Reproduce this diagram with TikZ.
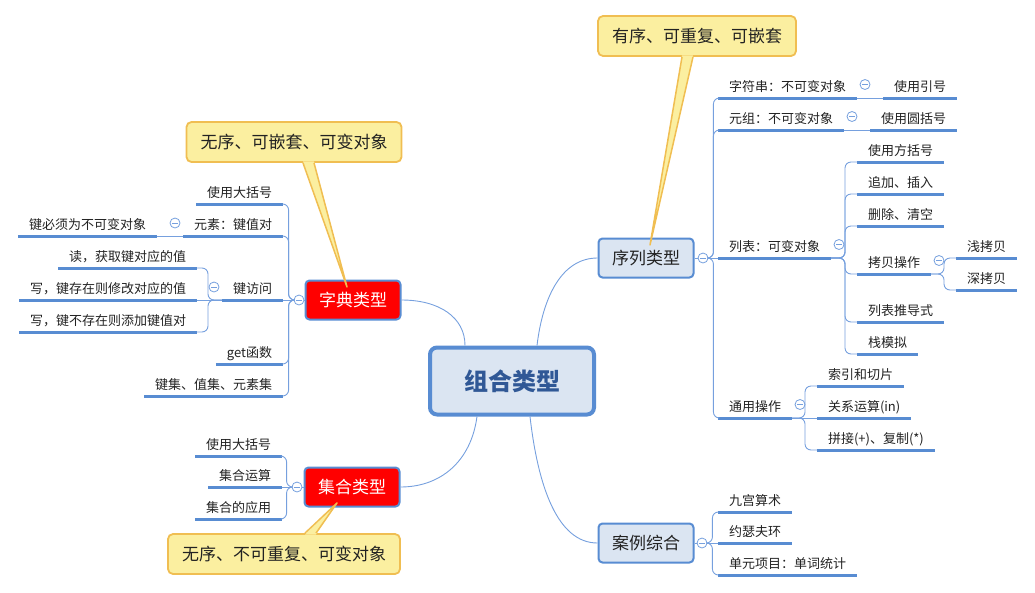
\documentclass[tikz,border=0pt]{standalone}
\usepackage{fontspec}
\setmainfont{Noto Sans CJK SC}
\usepackage{tikz}
\usetikzlibrary{positioning,calc}
\definecolor{lineblue}{RGB}{88,140,210}
\definecolor{spinec}{RGB}{118,160,222}
\definecolor{boxbg}{RGB}{219,229,242}
\definecolor{rootink}{RGB}{48,88,150}
\definecolor{ink}{RGB}{34,34,34}
\definecolor{notebg}{RGB}{251,239,160}
\definecolor{noteln}{RGB}{240,190,82}
\tikzset{
  root/.style={draw=lineblue,line width=4pt,rounded corners=7pt,fill=boxbg,text=rootink,font=\fontsize{24}{28}\selectfont\bfseries,minimum width=164pt,minimum height=67pt},
  cat/.style={draw=lineblue,line width=2pt,rounded corners=4pt,fill=boxbg,text=ink,font=\fontsize{17}{20}\selectfont,minimum width=95pt,minimum height=39pt},
  hot/.style={cat,fill=red,text=white},
  leaf/.style={font=\fontsize{13}{15}\selectfont,text=ink,inner xsep=11pt,inner ysep=5pt,text height=10pt,text depth=2pt,outer sep=0pt,
    append after command={(\tikzlastnode.south west) edge[uline] (\tikzlastnode.south east)}},
  fold/.style={circle,draw=spinec,fill=white,line width=0.8pt,minimum size=10pt,inner sep=0pt,
    path picture={\draw[spinec,line width=0.8pt] ([xshift=-2.8pt]path picture bounding box.center) -- ([xshift=2.8pt]path picture bounding box.center);}},
  note/.style={draw=noteln,line width=1.8pt,fill=notebg,rounded corners=5pt,text=ink,font=\fontsize{17}{20}\selectfont,inner xsep=14pt,minimum height=40pt},
  wedge/.style={noteln,line width=1.5pt,line join=round},
  link/.style={spinec,line width=0.9pt},
  spine/.style={link,rounded corners=6pt},
  uline/.style={draw=lineblue,line width=3pt},
}

\begin{document}
\begin{tikzpicture}[x=1pt,y=-1pt]
  \useasboundingbox (0,0) rectangle (1035,592);
  % main topics
  \node[root] (root) at (512,381) {组合类型};
  \node[hot] (dict) at (353,300) {字典类型};
  \node[hot] (set) at (352,487) {集合类型};
  \node[cat] (seq) at (646,258) {序列类型};
  \node[cat] (case) at (646,543) {案例综合};
  \draw[link] (dict.east) .. controls +(38,0) and +(0,-28) .. ([xshift=-47pt]root.north);
  \draw[link] ([xshift=25pt]root.north) .. controls +(6,-50) and +(-35,0) .. (seq.west);
  \draw[link] ([xshift=-35pt]root.south) .. controls +(-6,45) and +(40,0) .. (set.east);
  \draw[link] ([xshift=18pt]root.south) .. controls +(8,70) and +(-40,0) .. (case.west);

  % dict branch
  \node[fold] (fD) at (299,300) {};
  \node[leaf,anchor=south east] (d1) at (283,204) {使用大括号};
  \node[leaf,anchor=south east] (d2) at (283,236) {元素：键值对};
  \node[leaf,anchor=south east] (d2a) at (157,236) {键必须为不可变对象};
  \node[leaf,anchor=south east] (d3) at (283,300) {键访问};
  \node[leaf,anchor=south east] (d3a) at (197,268) {读，获取键对应的值};
  \node[leaf,anchor=south east] (d3b) at (197,300) {写，键存在则修改对应的值};
  \node[leaf,anchor=south east] (d3c) at (197,332) {写，键不存在则添加键值对};
  \node[leaf,anchor=south east] (d4) at (283,364) {get函数};
  \node[leaf,anchor=south east] (d5) at (283,396) {键集、值集、元素集};
  \node[fold] (fd2) at ($(d2.south west)+(-8,-13)$) {};
  \node[fold] (fd3) at ($(d3.south west)+(-8,-13)$) {};
  \draw[link] (dict.west) -- (fD.east);
  \foreach \c in {d1,d2,d4,d5}
    \draw[spine] (fD.west) -- ++(-5,0) |- (\c.south east);
  \draw[link] (fD.west) -- (d3.south east);
  \draw[link] (d2.south west) -- (d2a.south east);
  \foreach \c in {d3a,d3c}
    \draw[spine] (d3.south west) -- ++(-14,0) |- (\c.south east);
  \draw[link] (d3.south west) -- (d3b.south east);

  % set branch
  \node[fold] (fS) at (297,487) {};
  \node[leaf,anchor=south east] (s1) at (282,456) {使用大括号};
  \node[leaf,anchor=south east] (s2) at (282,487) {集合运算};
  \node[leaf,anchor=south east] (s3) at (282,519) {集合的应用};
  \draw[link] (set.west) -- (fS.east);
  \foreach \c in {s1,s3}
    \draw[spine] (fS.west) -- ++(-5,0) |- (\c.south east);
  \draw[link] (fS.west) -- (s2.south east);

  % sequence branch
  \node[fold] (fQ) at (703,258) {};
  \node[leaf,anchor=south west] (q1) at (718,98) {字符串：不可变对象};
  \node[leaf,anchor=south west] (q1a) at (883,98) {使用引号};
  \node[leaf,anchor=south west] (q2) at (718,130) {元组：不可变对象};
  \node[leaf,anchor=south west] (q2a) at (870,130) {使用圆括号};
  \node[leaf,anchor=south west] (q3) at (718,258) {列表：可变对象};
  \node[leaf,anchor=south west] (q3a) at (857,162) {使用方括号};
  \node[leaf,anchor=south west] (q3b) at (857,194) {追加、插入};
  \node[leaf,anchor=south west] (q3c) at (857,226) {删除、清空};
  \node[leaf,anchor=south west] (q3d) at (857,274) {拷贝操作};
  \node[leaf,anchor=south west] (q3d1) at (956,258) {浅拷贝};
  \node[leaf,anchor=south west] (q3d2) at (956,290) {深拷贝};
  \node[leaf,anchor=south west] (q3e) at (857,322) {列表推导式};
  \node[leaf,anchor=south west] (q3f) at (857,354) {栈模拟};
  \node[leaf,anchor=south west] (q4) at (718,418) {通用操作};
  \node[leaf,anchor=south west] (q4a) at (817,386) {索引和切片};
  \node[leaf,anchor=south west] (q4b) at (817,418) {关系运算(in)};
  \node[leaf,anchor=south west] (q4c) at (817,450) {拼接(+)、复制(*)};
  \node[fold] (fq1) at ($(q1.south east)+(8,-13.5)$) {};
  \node[fold] (fq2) at ($(q2.south east)+(8,-13.5)$) {};
  \node[fold] (fq3) at ($(q3.south east)+(8,-13.5)$) {};
  \node[fold] (fq3d) at ($(q3d.south east)+(8,-13.5)$) {};
  \node[fold] (fq4) at ($(q4.south east)+(8,-13.5)$) {};
  \draw[link] (seq.east) -- (fQ.west);
  \foreach \c in {q1,q2,q4}
    \draw[spine] (fQ.east) -- ++(5,0) |- (\c.south west);
  \draw[link] (fQ.east) -- (q3.south west);
  \draw[link] (q1.south east) -- (q1a.south west);
  \draw[link] (q2.south east) -- (q2a.south west);
  \foreach \c in {q3a,q3b,q3c,q3d,q3e,q3f}
    \draw[spine] (q3.south east) -- ++(14,0) |- (\c.south west);
  \foreach \c in {q3d1,q3d2}
    \draw[spine] (q3d.south east) -- ++(13,0) |- (\c.south west);
  \foreach \c in {q4a,q4c}
    \draw[spine] (q4.south east) -- ++(13,0) |- (\c.south west);
  \draw[link] (q4.south east) -- (q4b.south west);

  % case branch
  \node[fold] (fK) at (702,543) {};
  \node[leaf,anchor=south west] (k1) at (718,512) {九宫算术};
  \node[leaf,anchor=south west] (k2) at (718,543) {约瑟夫环};
  \node[leaf,anchor=south west] (k3) at (718,575) {单元项目：单词统计};
  \draw[link] (case.east) -- (fK.west);
  \foreach \c in {k1,k3}
    \draw[spine] (fK.east) -- ++(5,0) |- (\c.south west);
  \draw[link] (fK.east) -- (k2.south west);

  % callouts
  \node[note] (n1) at (294,142) {无序、可嵌套、可变对象};
  \node[note] (n2) at (284,554) {无序、不可重复、可变对象};
  \node[note] (n3) at (697,36) {有序、可重复、可嵌套};
  \coordinate (t1) at (347,287);
  \coordinate (t2) at (337,503);
  \coordinate (t3) at (650,245);
  \fill[notebg] ([xshift=9pt,yshift=1.5pt]n1.south) -- (t1) -- ([xshift=20pt,yshift=1.5pt]n1.south) -- cycle;
  \draw[wedge] ([xshift=9pt]n1.south) -- (t1) -- ([xshift=20pt]n1.south);
  \fill[notebg] ([xshift=21pt,yshift=-1.5pt]n2.north) -- (t2) -- ([xshift=32pt,yshift=-1.5pt]n2.north) -- cycle;
  \draw[wedge] ([xshift=21pt]n2.north) -- (t2) -- ([xshift=32pt]n2.north);
  \fill[notebg] ([xshift=-15pt,yshift=1.5pt]n3.south) -- (t3) -- ([xshift=-4pt,yshift=1.5pt]n3.south) -- cycle;
  \draw[wedge] ([xshift=-15pt]n3.south) -- (t3) -- ([xshift=-4pt]n3.south);
\end{tikzpicture}
\end{document}
